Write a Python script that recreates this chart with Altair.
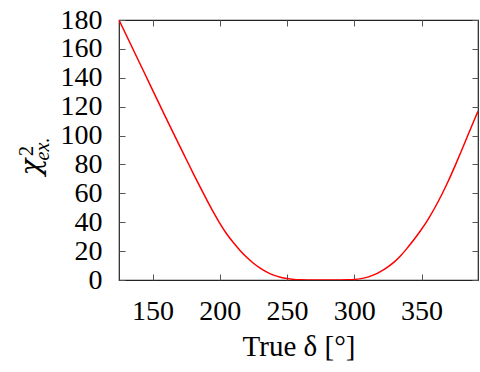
import altair as alt
import pandas as pd

delta = [125, 130, 135, 140, 145, 150, 155, 160, 165, 170, 175, 180, 185, 190,
         195, 200, 205, 210, 215, 220, 225, 230, 235, 240, 245, 250, 255, 260,
         265, 270, 275, 280, 285, 290, 295, 300, 305, 310, 315, 320, 325, 330,
         335, 340, 345, 350, 355, 360, 365, 370, 375, 380, 385, 390, 392]
chi2 = [180, 170.3, 160.6, 150.9, 141.2, 131.5, 121.8, 112.1, 102.5, 93.0, 83.6, 74.2, 65.0, 56.0,
        47.3, 39.2, 32.0, 25.9, 20.5, 15.7, 11.6, 8.2, 5.5, 3.4, 1.95, 1.0, 0.42, 0.12,
        0.02, 0, 0, 0, 0, 0.02, 0.12, 0.4, 0.95, 2.0, 3.7, 6.1, 9.1, 12.7,
        17.3, 22.8, 28.7, 35.1, 42.2, 50.2, 59.0, 68.7, 79.2, 90.2, 101.4, 112.5, 116.8]
x_ticks = [150, 200, 250, 300, 350]
y_ticks = [0, 20, 40, 60, 80, 100, 120, 140, 160, 180]
y_title_main = "χ"
y_title_sup = "2"
y_title_sub = "ex."

df = pd.DataFrame({"delta": delta, "chi2": chi2})
FONT = "Liberation Serif"
TICK = "#555555"

xs = alt.Scale(domain=[125, 392], nice=False, zero=False)
ys = alt.Scale(domain=[0, 180], nice=False, zero=False)

base = alt.Chart(df)

line = base.mark_line(color="#ff0000", strokeWidth=1.5, interpolate="monotone", clip=True).encode(
    x=alt.X("delta:Q", scale=xs, axis=alt.Axis(
        orient="bottom", values=x_ticks, offset=-6, tickSize=6, tickColor=TICK,
        domain=False, grid=False, labelFont=FONT, labelFontSize=28, labelColor="black",
        labelPadding=17, title="True δ [°]", titleFont=FONT, titleFontSize=29,
        titleFontWeight="normal", titleColor="black", titlePadding=7)),
    y=alt.Y("chi2:Q", scale=ys, axis=alt.Axis(
        orient="left", values=y_ticks, offset=-6, tickSize=6, tickColor=TICK,
        domain=False, grid=False, labelFont=FONT, labelFontSize=28, labelColor="black",
        labelPadding=17, title=None)),
)

frame = base.mark_line(opacity=0).encode(
    x=alt.X("delta:Q", scale=xs, axis=alt.Axis(
        orient="top", values=x_ticks, offset=-6, tickSize=6, tickColor=TICK,
        domain=False, grid=False, labels=False, title=None)),
    y=alt.Y("chi2:Q", scale=ys, axis=alt.Axis(
        orient="right", values=y_ticks, offset=-6, tickSize=6, tickColor=TICK,
        domain=False, grid=False, labels=False, title=None)),
)

t_main = alt.Chart(pd.DataFrame({"t": [y_title_main]})).mark_text(
    angle=270, align="center", baseline="alphabetic", font="DejaVu Serif", fontSize=28,
    fontStyle="italic", color="black").encode(
    text="t:N", x=alt.value(-79), y=alt.value(147))
t_sup = alt.Chart(pd.DataFrame({"t": [y_title_sup]})).mark_text(
    angle=270, align="center", baseline="alphabetic", font=FONT, fontSize=20,
    color="black").encode(
    text="t:N", x=alt.value(-86), y=alt.value(131))
t_sub = alt.Chart(pd.DataFrame({"t": [y_title_sub]})).mark_text(
    angle=270, align="center", baseline="alphabetic", font=FONT, fontSize=20,
    fontStyle="italic", color="black").encode(
    text="t:N", x=alt.value(-70), y=alt.value(129))

chart = alt.layer(line, frame, t_main, t_sup, t_sub).resolve_axis(
    x="independent", y="independent").properties(
    width=359, height=260, autosize="none",
    padding={"left": 119, "top": 20, "right": 2, "bottom": 92},
).configure_view(stroke="#222222", strokeWidth=1.2)

chart.save("out.html", embed_options={"renderer": "svg", "actions": False})
